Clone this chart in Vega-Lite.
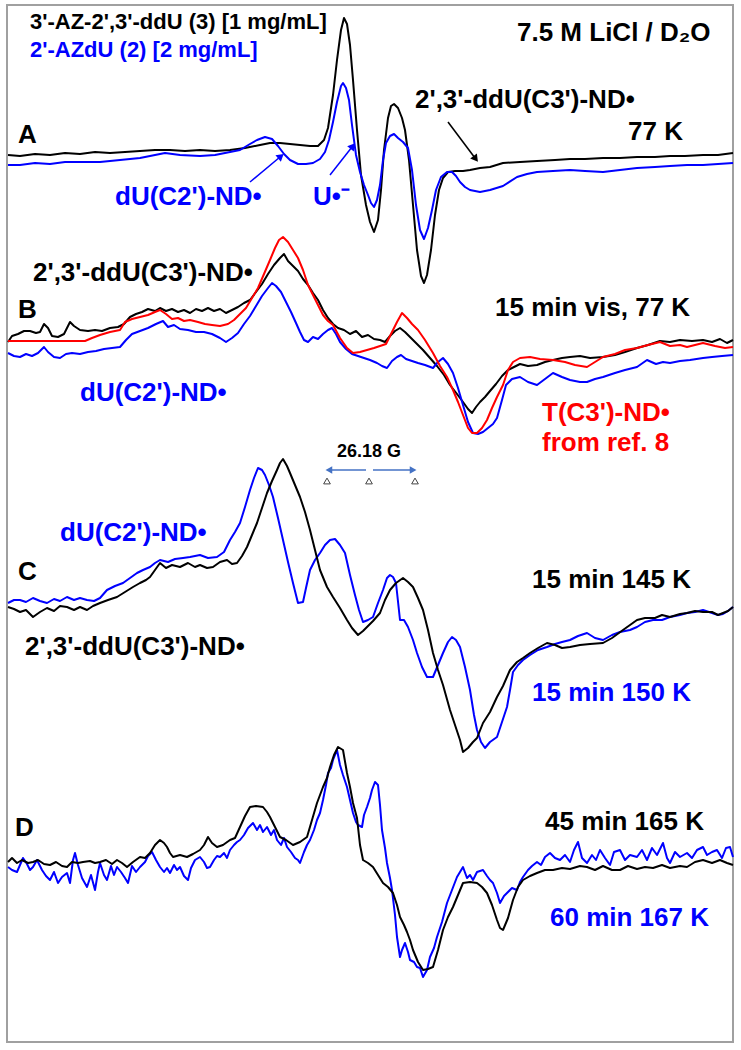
{
"$schema": "https://vega.github.io/schema/vega-lite/v6.json",
"width": 741, "height": 1050,
"autosize": {"type": "fit", "contains": "padding"},
"padding": 0,
"background": "white",
"config": {"view": {"stroke": null}},
"resolve": {"scale": {"color": "independent"}},
"datasets": {
"frame": [{"x": 7, "x2": 733, "y": 5, "y2": 1042}],
"traces": [
{"s":"Ak","x":8,"y":155},{"s":"Ak","x":20,"y":156},{"s":"Ak","x":35,"y":154},{"s":"Ak","x":50,"y":155},{"s":"Ak","x":65,"y":153},{"s":"Ak","x":80,"y":154},{"s":"Ak","x":95,"y":152},{"s":"Ak","x":110,"y":153},{"s":"Ak","x":125,"y":152},{"s":"Ak","x":140,"y":151},{"s":"Ak","x":155,"y":150},{"s":"Ak","x":170,"y":150},{"s":"Ak","x":185,"y":151},{"s":"Ak","x":200,"y":150},{"s":"Ak","x":215,"y":151},{"s":"Ak","x":230,"y":150},{"s":"Ak","x":245,"y":148},{"s":"Ak","x":260,"y":145},{"s":"Ak","x":270,"y":143},{"s":"Ak","x":280,"y":143},{"s":"Ak","x":290,"y":144},{"s":"Ak","x":300,"y":145},{"s":"Ak","x":310,"y":146},{"s":"Ak","x":318,"y":146},{"s":"Ak","x":324,"y":140},{"s":"Ak","x":328,"y":128},{"s":"Ak","x":333,"y":95},{"s":"Ak","x":337,"y":60},{"s":"Ak","x":341,"y":30},{"s":"Ak","x":344,"y":18},{"s":"Ak","x":347,"y":24},{"s":"Ak","x":350,"y":45},{"s":"Ak","x":353,"y":80},{"s":"Ak","x":357,"y":130},{"s":"Ak","x":361,"y":175},{"s":"Ak","x":366,"y":205},{"s":"Ak","x":370,"y":222},{"s":"Ak","x":374,"y":232},{"s":"Ak","x":378,"y":220},{"s":"Ak","x":381,"y":190},{"s":"Ak","x":384,"y":150},{"s":"Ak","x":388,"y":118},{"s":"Ak","x":391,"y":106},{"s":"Ak","x":394,"y":104},{"s":"Ak","x":398,"y":108},{"s":"Ak","x":402,"y":118},{"s":"Ak","x":405,"y":130},{"s":"Ak","x":409,"y":160},{"s":"Ak","x":413,"y":205},{"s":"Ak","x":417,"y":250},{"s":"Ak","x":421,"y":276},{"s":"Ak","x":424,"y":283},{"s":"Ak","x":427,"y":275},{"s":"Ak","x":431,"y":250},{"s":"Ak","x":435,"y":215},{"s":"Ak","x":439,"y":190},{"s":"Ak","x":443,"y":178},{"s":"Ak","x":448,"y":172},{"s":"Ak","x":455,"y":171},{"s":"Ak","x":463,"y":171},{"s":"Ak","x":470,"y":170},{"s":"Ak","x":480,"y":168},{"s":"Ak","x":490,"y":167},{"s":"Ak","x":503,"y":163},{"s":"Ak","x":520,"y":162},{"s":"Ak","x":537,"y":161},{"s":"Ak","x":555,"y":160},{"s":"Ak","x":570,"y":159},{"s":"Ak","x":585,"y":159},{"s":"Ak","x":603,"y":158},{"s":"Ak","x":620,"y":158},{"s":"Ak","x":637,"y":157},{"s":"Ak","x":655,"y":157},{"s":"Ak","x":670,"y":156},{"s":"Ak","x":685,"y":156},{"s":"Ak","x":703,"y":155},{"s":"Ak","x":718,"y":155},{"s":"Ak","x":733,"y":153},
{"s":"Ab","x":8,"y":165},{"s":"Ab","x":20,"y":165},{"s":"Ab","x":35,"y":163},{"s":"Ab","x":50,"y":164},{"s":"Ab","x":65,"y":162},{"s":"Ab","x":80,"y":162},{"s":"Ab","x":100,"y":162},{"s":"Ab","x":120,"y":160},{"s":"Ab","x":140,"y":158},{"s":"Ab","x":155,"y":155},{"s":"Ab","x":165,"y":153},{"s":"Ab","x":180,"y":155},{"s":"Ab","x":200,"y":156},{"s":"Ab","x":215,"y":155},{"s":"Ab","x":230,"y":152},{"s":"Ab","x":240,"y":150},{"s":"Ab","x":250,"y":144},{"s":"Ab","x":257,"y":140},{"s":"Ab","x":265,"y":137},{"s":"Ab","x":272,"y":139},{"s":"Ab","x":278,"y":146},{"s":"Ab","x":284,"y":154},{"s":"Ab","x":290,"y":160},{"s":"Ab","x":298,"y":164},{"s":"Ab","x":306,"y":164},{"s":"Ab","x":313,"y":163},{"s":"Ab","x":320,"y":159},{"s":"Ab","x":325,"y":152},{"s":"Ab","x":329,"y":140},{"s":"Ab","x":333,"y":122},{"s":"Ab","x":337,"y":102},{"s":"Ab","x":341,"y":86},{"s":"Ab","x":343,"y":83},{"s":"Ab","x":346,"y":88},{"s":"Ab","x":349,"y":100},{"s":"Ab","x":352,"y":125},{"s":"Ab","x":356,"y":155},{"s":"Ab","x":360,"y":172},{"s":"Ab","x":364,"y":185},{"s":"Ab","x":368,"y":195},{"s":"Ab","x":371,"y":203},{"s":"Ab","x":374,"y":207},{"s":"Ab","x":377,"y":200},{"s":"Ab","x":380,"y":185},{"s":"Ab","x":383,"y":160},{"s":"Ab","x":386,"y":143},{"s":"Ab","x":390,"y":136},{"s":"Ab","x":394,"y":134},{"s":"Ab","x":398,"y":138},{"s":"Ab","x":403,"y":142},{"s":"Ab","x":408,"y":148},{"s":"Ab","x":412,"y":170},{"s":"Ab","x":416,"y":205},{"s":"Ab","x":420,"y":230},{"s":"Ab","x":424,"y":239},{"s":"Ab","x":428,"y":228},{"s":"Ab","x":432,"y":210},{"s":"Ab","x":436,"y":190},{"s":"Ab","x":441,"y":177},{"s":"Ab","x":447,"y":172},{"s":"Ab","x":452,"y":172},{"s":"Ab","x":456,"y":176},{"s":"Ab","x":460,"y":182},{"s":"Ab","x":465,"y":187},{"s":"Ab","x":470,"y":190},{"s":"Ab","x":480,"y":192},{"s":"Ab","x":490,"y":190},{"s":"Ab","x":503,"y":186},{"s":"Ab","x":517,"y":177},{"s":"Ab","x":527,"y":174},{"s":"Ab","x":537,"y":172},{"s":"Ab","x":553,"y":171},{"s":"Ab","x":570,"y":170},{"s":"Ab","x":585,"y":171},{"s":"Ab","x":603,"y":172},{"s":"Ab","x":620,"y":170},{"s":"Ab","x":637,"y":168},{"s":"Ab","x":655,"y":167},{"s":"Ab","x":670,"y":166},{"s":"Ab","x":687,"y":165},{"s":"Ab","x":703,"y":165},{"s":"Ab","x":718,"y":164},{"s":"Ab","x":733,"y":163},
{"s":"Bk","x":8,"y":342},{"s":"Bk","x":12,"y":336},{"s":"Bk","x":18,"y":334},{"s":"Bk","x":24,"y":331},{"s":"Bk","x":30,"y":331},{"s":"Bk","x":36,"y":333},{"s":"Bk","x":40,"y":332},{"s":"Bk","x":44,"y":324},{"s":"Bk","x":48,"y":328},{"s":"Bk","x":52,"y":336},{"s":"Bk","x":58,"y":337},{"s":"Bk","x":64,"y":334},{"s":"Bk","x":70,"y":322},{"s":"Bk","x":74,"y":326},{"s":"Bk","x":80,"y":330},{"s":"Bk","x":88,"y":331},{"s":"Bk","x":95,"y":330},{"s":"Bk","x":102,"y":331},{"s":"Bk","x":110,"y":328},{"s":"Bk","x":118,"y":327},{"s":"Bk","x":124,"y":324},{"s":"Bk","x":130,"y":317},{"s":"Bk","x":136,"y":314},{"s":"Bk","x":142,"y":312},{"s":"Bk","x":148,"y":309},{"s":"Bk","x":155,"y":311},{"s":"Bk","x":160,"y":308},{"s":"Bk","x":166,"y":311},{"s":"Bk","x":172,"y":309},{"s":"Bk","x":178,"y":312},{"s":"Bk","x":184,"y":310},{"s":"Bk","x":190,"y":313},{"s":"Bk","x":196,"y":309},{"s":"Bk","x":202,"y":311},{"s":"Bk","x":208,"y":308},{"s":"Bk","x":214,"y":311},{"s":"Bk","x":220,"y":309},{"s":"Bk","x":226,"y":313},{"s":"Bk","x":232,"y":310},{"s":"Bk","x":238,"y":307},{"s":"Bk","x":244,"y":303},{"s":"Bk","x":250,"y":300},{"s":"Bk","x":256,"y":292},{"s":"Bk","x":262,"y":284},{"s":"Bk","x":268,"y":274},{"s":"Bk","x":274,"y":265},{"s":"Bk","x":280,"y":258},{"s":"Bk","x":284,"y":254},{"s":"Bk","x":288,"y":261},{"s":"Bk","x":293,"y":266},{"s":"Bk","x":298,"y":271},{"s":"Bk","x":303,"y":279},{"s":"Bk","x":308,"y":285},{"s":"Bk","x":313,"y":293},{"s":"Bk","x":318,"y":300},{"s":"Bk","x":323,"y":310},{"s":"Bk","x":328,"y":318},{"s":"Bk","x":333,"y":324},{"s":"Bk","x":338,"y":328},{"s":"Bk","x":344,"y":330},{"s":"Bk","x":350,"y":334},{"s":"Bk","x":356,"y":331},{"s":"Bk","x":362,"y":337},{"s":"Bk","x":368,"y":335},{"s":"Bk","x":374,"y":339},{"s":"Bk","x":380,"y":340},{"s":"Bk","x":385,"y":342},{"s":"Bk","x":390,"y":336},{"s":"Bk","x":395,"y":331},{"s":"Bk","x":400,"y":328},{"s":"Bk","x":405,"y":332},{"s":"Bk","x":410,"y":337},{"s":"Bk","x":416,"y":343},{"s":"Bk","x":423,"y":350},{"s":"Bk","x":430,"y":358},{"s":"Bk","x":437,"y":366},{"s":"Bk","x":444,"y":375},{"s":"Bk","x":450,"y":385},{"s":"Bk","x":457,"y":394},{"s":"Bk","x":463,"y":402},{"s":"Bk","x":468,"y":409},{"s":"Bk","x":472,"y":413},{"s":"Bk","x":476,"y":407},{"s":"Bk","x":480,"y":402},{"s":"Bk","x":485,"y":397},{"s":"Bk","x":490,"y":391},{"s":"Bk","x":496,"y":384},{"s":"Bk","x":502,"y":376},{"s":"Bk","x":508,"y":370},{"s":"Bk","x":514,"y":367},{"s":"Bk","x":520,"y":364},{"s":"Bk","x":528,"y":366},{"s":"Bk","x":537,"y":365},{"s":"Bk","x":545,"y":362},{"s":"Bk","x":553,"y":360},{"s":"Bk","x":562,"y":358},{"s":"Bk","x":570,"y":357},{"s":"Bk","x":580,"y":356},{"s":"Bk","x":590,"y":358},{"s":"Bk","x":603,"y":357},{"s":"Bk","x":615,"y":355},{"s":"Bk","x":625,"y":352},{"s":"Bk","x":637,"y":348},{"s":"Bk","x":648,"y":345},{"s":"Bk","x":660,"y":341},{"s":"Bk","x":670,"y":342},{"s":"Bk","x":680,"y":340},{"s":"Bk","x":692,"y":341},{"s":"Bk","x":703,"y":340},{"s":"Bk","x":712,"y":342},{"s":"Bk","x":720,"y":339},{"s":"Bk","x":727,"y":343},{"s":"Bk","x":733,"y":340},
{"s":"Bb","x":8,"y":353},{"s":"Bb","x":14,"y":356},{"s":"Bb","x":20,"y":357},{"s":"Bb","x":26,"y":354},{"s":"Bb","x":32,"y":356},{"s":"Bb","x":38,"y":353},{"s":"Bb","x":44,"y":347},{"s":"Bb","x":48,"y":352},{"s":"Bb","x":54,"y":357},{"s":"Bb","x":60,"y":358},{"s":"Bb","x":66,"y":354},{"s":"Bb","x":72,"y":353},{"s":"Bb","x":80,"y":354},{"s":"Bb","x":88,"y":352},{"s":"Bb","x":96,"y":351},{"s":"Bb","x":104,"y":349},{"s":"Bb","x":112,"y":348},{"s":"Bb","x":120,"y":347},{"s":"Bb","x":126,"y":340},{"s":"Bb","x":132,"y":334},{"s":"Bb","x":140,"y":331},{"s":"Bb","x":148,"y":328},{"s":"Bb","x":156,"y":324},{"s":"Bb","x":163,"y":321},{"s":"Bb","x":168,"y":327},{"s":"Bb","x":174,"y":325},{"s":"Bb","x":180,"y":329},{"s":"Bb","x":188,"y":330},{"s":"Bb","x":196,"y":332},{"s":"Bb","x":204,"y":332},{"s":"Bb","x":212,"y":334},{"s":"Bb","x":220,"y":338},{"s":"Bb","x":226,"y":342},{"s":"Bb","x":232,"y":338},{"s":"Bb","x":238,"y":333},{"s":"Bb","x":244,"y":324},{"s":"Bb","x":250,"y":316},{"s":"Bb","x":256,"y":306},{"s":"Bb","x":262,"y":296},{"s":"Bb","x":268,"y":288},{"s":"Bb","x":272,"y":283},{"s":"Bb","x":276,"y":286},{"s":"Bb","x":281,"y":292},{"s":"Bb","x":286,"y":302},{"s":"Bb","x":291,"y":312},{"s":"Bb","x":296,"y":323},{"s":"Bb","x":300,"y":332},{"s":"Bb","x":304,"y":340},{"s":"Bb","x":308,"y":342},{"s":"Bb","x":313,"y":337},{"s":"Bb","x":318,"y":339},{"s":"Bb","x":323,"y":334},{"s":"Bb","x":328,"y":330},{"s":"Bb","x":332,"y":328},{"s":"Bb","x":336,"y":334},{"s":"Bb","x":340,"y":342},{"s":"Bb","x":346,"y":349},{"s":"Bb","x":352,"y":354},{"s":"Bb","x":358,"y":356},{"s":"Bb","x":364,"y":358},{"s":"Bb","x":370,"y":360},{"s":"Bb","x":377,"y":363},{"s":"Bb","x":382,"y":366},{"s":"Bb","x":387,"y":368},{"s":"Bb","x":392,"y":361},{"s":"Bb","x":397,"y":357},{"s":"Bb","x":401,"y":355},{"s":"Bb","x":406,"y":359},{"s":"Bb","x":412,"y":361},{"s":"Bb","x":418,"y":363},{"s":"Bb","x":425,"y":365},{"s":"Bb","x":433,"y":368},{"s":"Bb","x":438,"y":362},{"s":"Bb","x":443,"y":358},{"s":"Bb","x":448,"y":364},{"s":"Bb","x":453,"y":373},{"s":"Bb","x":458,"y":388},{"s":"Bb","x":463,"y":405},{"s":"Bb","x":468,"y":422},{"s":"Bb","x":473,"y":433},{"s":"Bb","x":478,"y":434},{"s":"Bb","x":483,"y":432},{"s":"Bb","x":488,"y":428},{"s":"Bb","x":493,"y":424},{"s":"Bb","x":497,"y":418},{"s":"Bb","x":502,"y":400},{"s":"Bb","x":506,"y":385},{"s":"Bb","x":512,"y":379},{"s":"Bb","x":520,"y":377},{"s":"Bb","x":528,"y":382},{"s":"Bb","x":537,"y":385},{"s":"Bb","x":545,"y":379},{"s":"Bb","x":553,"y":373},{"s":"Bb","x":562,"y":377},{"s":"Bb","x":570,"y":380},{"s":"Bb","x":580,"y":382},{"s":"Bb","x":587,"y":382},{"s":"Bb","x":595,"y":379},{"s":"Bb","x":603,"y":377},{"s":"Bb","x":615,"y":373},{"s":"Bb","x":625,"y":370},{"s":"Bb","x":637,"y":367},{"s":"Bb","x":647,"y":360},{"s":"Bb","x":656,"y":364},{"s":"Bb","x":663,"y":362},{"s":"Bb","x":670,"y":363},{"s":"Bb","x":680,"y":361},{"s":"Bb","x":690,"y":360},{"s":"Bb","x":703,"y":358},{"s":"Bb","x":712,"y":357},{"s":"Bb","x":722,"y":356},{"s":"Bb","x":733,"y":355},
{"s":"Br","x":8,"y":341},{"s":"Br","x":85,"y":341},{"s":"Br","x":92,"y":338},{"s":"Br","x":100,"y":335},{"s":"Br","x":110,"y":332},{"s":"Br","x":120,"y":330},{"s":"Br","x":125,"y":322},{"s":"Br","x":132,"y":319},{"s":"Br","x":140,"y":317},{"s":"Br","x":148,"y":315},{"s":"Br","x":155,"y":312},{"s":"Br","x":160,"y":310},{"s":"Br","x":166,"y":314},{"s":"Br","x":172,"y":319},{"s":"Br","x":178,"y":318},{"s":"Br","x":184,"y":321},{"s":"Br","x":190,"y":320},{"s":"Br","x":198,"y":322},{"s":"Br","x":205,"y":324},{"s":"Br","x":212,"y":325},{"s":"Br","x":220,"y":326},{"s":"Br","x":228,"y":324},{"s":"Br","x":234,"y":320},{"s":"Br","x":240,"y":314},{"s":"Br","x":246,"y":308},{"s":"Br","x":252,"y":298},{"s":"Br","x":258,"y":288},{"s":"Br","x":264,"y":274},{"s":"Br","x":270,"y":260},{"s":"Br","x":275,"y":248},{"s":"Br","x":279,"y":240},{"s":"Br","x":283,"y":237},{"s":"Br","x":288,"y":242},{"s":"Br","x":293,"y":250},{"s":"Br","x":298,"y":258},{"s":"Br","x":303,"y":270},{"s":"Br","x":308,"y":285},{"s":"Br","x":313,"y":295},{"s":"Br","x":318,"y":305},{"s":"Br","x":323,"y":315},{"s":"Br","x":328,"y":321},{"s":"Br","x":333,"y":325},{"s":"Br","x":340,"y":338},{"s":"Br","x":347,"y":348},{"s":"Br","x":353,"y":353},{"s":"Br","x":360,"y":352},{"s":"Br","x":367,"y":350},{"s":"Br","x":374,"y":348},{"s":"Br","x":380,"y":346},{"s":"Br","x":386,"y":344},{"s":"Br","x":392,"y":332},{"s":"Br","x":397,"y":322},{"s":"Br","x":402,"y":313},{"s":"Br","x":407,"y":318},{"s":"Br","x":412,"y":324},{"s":"Br","x":418,"y":330},{"s":"Br","x":425,"y":340},{"s":"Br","x":433,"y":353},{"s":"Br","x":440,"y":366},{"s":"Br","x":447,"y":377},{"s":"Br","x":453,"y":390},{"s":"Br","x":458,"y":402},{"s":"Br","x":463,"y":415},{"s":"Br","x":468,"y":428},{"s":"Br","x":472,"y":433},{"s":"Br","x":477,"y":433},{"s":"Br","x":482,"y":428},{"s":"Br","x":487,"y":420},{"s":"Br","x":492,"y":408},{"s":"Br","x":497,"y":397},{"s":"Br","x":503,"y":385},{"s":"Br","x":508,"y":370},{"s":"Br","x":513,"y":362},{"s":"Br","x":520,"y":358},{"s":"Br","x":530,"y":357},{"s":"Br","x":540,"y":359},{"s":"Br","x":553,"y":360},{"s":"Br","x":565,"y":362},{"s":"Br","x":575,"y":365},{"s":"Br","x":587,"y":367},{"s":"Br","x":595,"y":362},{"s":"Br","x":603,"y":357},{"s":"Br","x":615,"y":354},{"s":"Br","x":625,"y":350},{"s":"Br","x":637,"y":348},{"s":"Br","x":648,"y":345},{"s":"Br","x":660,"y":342},{"s":"Br","x":670,"y":346},{"s":"Br","x":680,"y":345},{"s":"Br","x":687,"y":347},{"s":"Br","x":695,"y":345},{"s":"Br","x":703,"y":343},{"s":"Br","x":715,"y":346},{"s":"Br","x":725,"y":348},{"s":"Br","x":733,"y":347},
{"s":"Cb","x":8,"y":603},{"s":"Cb","x":14,"y":600},{"s":"Cb","x":20,"y":600},{"s":"Cb","x":26,"y":602},{"s":"Cb","x":33,"y":598},{"s":"Cb","x":40,"y":601},{"s":"Cb","x":47,"y":603},{"s":"Cb","x":54,"y":599},{"s":"Cb","x":60,"y":601},{"s":"Cb","x":67,"y":597},{"s":"Cb","x":74,"y":600},{"s":"Cb","x":80,"y":598},{"s":"Cb","x":87,"y":600},{"s":"Cb","x":94,"y":601},{"s":"Cb","x":100,"y":598},{"s":"Cb","x":107,"y":590},{"s":"Cb","x":115,"y":586},{"s":"Cb","x":123,"y":583},{"s":"Cb","x":130,"y":578},{"s":"Cb","x":137,"y":573},{"s":"Cb","x":143,"y":570},{"s":"Cb","x":150,"y":567},{"s":"Cb","x":155,"y":563},{"s":"Cb","x":160,"y":560},{"s":"Cb","x":168,"y":562},{"s":"Cb","x":175,"y":559},{"s":"Cb","x":183,"y":558},{"s":"Cb","x":190,"y":557},{"s":"Cb","x":200,"y":555},{"s":"Cb","x":208,"y":558},{"s":"Cb","x":217,"y":557},{"s":"Cb","x":224,"y":552},{"s":"Cb","x":230,"y":540},{"s":"Cb","x":235,"y":532},{"s":"Cb","x":240,"y":523},{"s":"Cb","x":245,"y":507},{"s":"Cb","x":250,"y":490},{"s":"Cb","x":254,"y":478},{"s":"Cb","x":258,"y":468},{"s":"Cb","x":262,"y":470},{"s":"Cb","x":265,"y":475},{"s":"Cb","x":269,"y":485},{"s":"Cb","x":273,"y":497},{"s":"Cb","x":278,"y":518},{"s":"Cb","x":283,"y":540},{"s":"Cb","x":288,"y":562},{"s":"Cb","x":293,"y":583},{"s":"Cb","x":298,"y":603},{"s":"Cb","x":303,"y":602},{"s":"Cb","x":306,"y":588},{"s":"Cb","x":310,"y":570},{"s":"Cb","x":315,"y":560},{"s":"Cb","x":320,"y":553},{"s":"Cb","x":325,"y":545},{"s":"Cb","x":330,"y":540},{"s":"Cb","x":335,"y":539},{"s":"Cb","x":340,"y":545},{"s":"Cb","x":345,"y":553},{"s":"Cb","x":350,"y":575},{"s":"Cb","x":355,"y":595},{"s":"Cb","x":359,"y":610},{"s":"Cb","x":363,"y":622},{"s":"Cb","x":368,"y":620},{"s":"Cb","x":373,"y":617},{"s":"Cb","x":378,"y":603},{"s":"Cb","x":383,"y":590},{"s":"Cb","x":387,"y":578},{"s":"Cb","x":390,"y":575},{"s":"Cb","x":393,"y":577},{"s":"Cb","x":396,"y":583},{"s":"Cb","x":400,"y":620},{"s":"Cb","x":404,"y":620},{"s":"Cb","x":408,"y":627},{"s":"Cb","x":413,"y":640},{"s":"Cb","x":417,"y":653},{"s":"Cb","x":422,"y":667},{"s":"Cb","x":427,"y":677},{"s":"Cb","x":433,"y":677},{"s":"Cb","x":438,"y":665},{"s":"Cb","x":443,"y":653},{"s":"Cb","x":448,"y":642},{"s":"Cb","x":452,"y":637},{"s":"Cb","x":456,"y":640},{"s":"Cb","x":460,"y":647},{"s":"Cb","x":465,"y":667},{"s":"Cb","x":470,"y":690},{"s":"Cb","x":474,"y":715},{"s":"Cb","x":477,"y":730},{"s":"Cb","x":481,"y":742},{"s":"Cb","x":485,"y":748},{"s":"Cb","x":490,"y":742},{"s":"Cb","x":497,"y":737},{"s":"Cb","x":502,"y":722},{"s":"Cb","x":507,"y":707},{"s":"Cb","x":510,"y":690},{"s":"Cb","x":513,"y":672},{"s":"Cb","x":518,"y":665},{"s":"Cb","x":523,"y":660},{"s":"Cb","x":530,"y":655},{"s":"Cb","x":538,"y":650},{"s":"Cb","x":547,"y":647},{"s":"Cb","x":555,"y":644},{"s":"Cb","x":562,"y":642},{"s":"Cb","x":570,"y":640},{"s":"Cb","x":578,"y":636},{"s":"Cb","x":587,"y":633},{"s":"Cb","x":595,"y":638},{"s":"Cb","x":603,"y":640},{"s":"Cb","x":612,"y":635},{"s":"Cb","x":620,"y":632},{"s":"Cb","x":630,"y":630},{"s":"Cb","x":637,"y":627},{"s":"Cb","x":645,"y":622},{"s":"Cb","x":653,"y":620},{"s":"Cb","x":662,"y":620},{"s":"Cb","x":670,"y":617},{"s":"Cb","x":680,"y":615},{"s":"Cb","x":687,"y":613},{"s":"Cb","x":695,"y":612},{"s":"Cb","x":703,"y":610},{"s":"Cb","x":712,"y":613},{"s":"Cb","x":718,"y":615},{"s":"Cb","x":723,"y":614},{"s":"Cb","x":728,"y":611},{"s":"Cb","x":733,"y":607},
{"s":"Ck","x":8,"y":607},{"s":"Ck","x":14,"y":609},{"s":"Ck","x":20,"y":612},{"s":"Ck","x":26,"y":610},{"s":"Ck","x":33,"y":617},{"s":"Ck","x":40,"y":612},{"s":"Ck","x":47,"y":608},{"s":"Ck","x":54,"y":611},{"s":"Ck","x":60,"y":606},{"s":"Ck","x":67,"y":607},{"s":"Ck","x":74,"y":610},{"s":"Ck","x":80,"y":607},{"s":"Ck","x":87,"y":610},{"s":"Ck","x":93,"y":606},{"s":"Ck","x":100,"y":603},{"s":"Ck","x":108,"y":600},{"s":"Ck","x":117,"y":597},{"s":"Ck","x":125,"y":592},{"s":"Ck","x":133,"y":587},{"s":"Ck","x":140,"y":583},{"s":"Ck","x":146,"y":580},{"s":"Ck","x":150,"y":577},{"s":"Ck","x":155,"y":570},{"s":"Ck","x":160,"y":563},{"s":"Ck","x":166,"y":568},{"s":"Ck","x":172,"y":565},{"s":"Ck","x":180,"y":567},{"s":"Ck","x":188,"y":563},{"s":"Ck","x":195,"y":567},{"s":"Ck","x":200,"y":565},{"s":"Ck","x":207,"y":568},{"s":"Ck","x":213,"y":567},{"s":"Ck","x":220,"y":562},{"s":"Ck","x":227,"y":560},{"s":"Ck","x":232,"y":564},{"s":"Ck","x":237,"y":563},{"s":"Ck","x":242,"y":556},{"s":"Ck","x":247,"y":547},{"s":"Ck","x":252,"y":535},{"s":"Ck","x":257,"y":523},{"s":"Ck","x":262,"y":508},{"s":"Ck","x":267,"y":493},{"s":"Ck","x":272,"y":481},{"s":"Ck","x":277,"y":470},{"s":"Ck","x":280,"y":463},{"s":"Ck","x":283,"y":459},{"s":"Ck","x":287,"y":466},{"s":"Ck","x":290,"y":473},{"s":"Ck","x":295,"y":485},{"s":"Ck","x":300,"y":497},{"s":"Ck","x":305,"y":512},{"s":"Ck","x":310,"y":530},{"s":"Ck","x":315,"y":550},{"s":"Ck","x":320,"y":570},{"s":"Ck","x":327,"y":587},{"s":"Ck","x":333,"y":597},{"s":"Ck","x":340,"y":608},{"s":"Ck","x":347,"y":620},{"s":"Ck","x":352,"y":628},{"s":"Ck","x":358,"y":635},{"s":"Ck","x":363,"y":631},{"s":"Ck","x":367,"y":627},{"s":"Ck","x":373,"y":621},{"s":"Ck","x":380,"y":613},{"s":"Ck","x":385,"y":600},{"s":"Ck","x":390,"y":590},{"s":"Ck","x":396,"y":583},{"s":"Ck","x":403,"y":578},{"s":"Ck","x":408,"y":582},{"s":"Ck","x":413,"y":587},{"s":"Ck","x":418,"y":598},{"s":"Ck","x":423,"y":610},{"s":"Ck","x":428,"y":630},{"s":"Ck","x":433,"y":653},{"s":"Ck","x":438,"y":670},{"s":"Ck","x":443,"y":685},{"s":"Ck","x":450,"y":710},{"s":"Ck","x":455,"y":725},{"s":"Ck","x":460,"y":740},{"s":"Ck","x":463,"y":752},{"s":"Ck","x":468,"y":748},{"s":"Ck","x":473,"y":742},{"s":"Ck","x":477,"y":738},{"s":"Ck","x":483,"y":723},{"s":"Ck","x":490,"y":712},{"s":"Ck","x":497,"y":697},{"s":"Ck","x":503,"y":686},{"s":"Ck","x":510,"y":670},{"s":"Ck","x":517,"y":662},{"s":"Ck","x":523,"y":658},{"s":"Ck","x":530,"y":653},{"s":"Ck","x":538,"y":648},{"s":"Ck","x":547,"y":643},{"s":"Ck","x":555,"y":645},{"s":"Ck","x":562,"y":648},{"s":"Ck","x":570,"y":647},{"s":"Ck","x":580,"y":645},{"s":"Ck","x":590,"y":644},{"s":"Ck","x":603,"y":643},{"s":"Ck","x":612,"y":638},{"s":"Ck","x":623,"y":630},{"s":"Ck","x":630,"y":625},{"s":"Ck","x":637,"y":620},{"s":"Ck","x":645,"y":618},{"s":"Ck","x":655,"y":618},{"s":"Ck","x":662,"y":615},{"s":"Ck","x":670,"y":617},{"s":"Ck","x":680,"y":614},{"s":"Ck","x":687,"y":613},{"s":"Ck","x":695,"y":611},{"s":"Ck","x":703,"y":612},{"s":"Ck","x":712,"y":612},{"s":"Ck","x":718,"y":615},{"s":"Ck","x":723,"y":613},{"s":"Ck","x":728,"y":611},{"s":"Ck","x":733,"y":607},
{"s":"Db","x":8,"y":867},{"s":"Db","x":12,"y":870},{"s":"Db","x":17,"y":872},{"s":"Db","x":20,"y":865},{"s":"Db","x":23,"y":858},{"s":"Db","x":27,"y":864},{"s":"Db","x":30,"y":870},{"s":"Db","x":33,"y":867},{"s":"Db","x":37,"y":860},{"s":"Db","x":42,"y":870},{"s":"Db","x":46,"y":876},{"s":"Db","x":50,"y":880},{"s":"Db","x":54,"y":872},{"s":"Db","x":58,"y":883},{"s":"Db","x":62,"y":877},{"s":"Db","x":67,"y":873},{"s":"Db","x":70,"y":883},{"s":"Db","x":73,"y":860},{"s":"Db","x":75,"y":853},{"s":"Db","x":78,"y":865},{"s":"Db","x":82,"y":878},{"s":"Db","x":87,"y":887},{"s":"Db","x":91,"y":875},{"s":"Db","x":95,"y":890},{"s":"Db","x":98,"y":872},{"s":"Db","x":100,"y":863},{"s":"Db","x":104,"y":875},{"s":"Db","x":107,"y":880},{"s":"Db","x":111,"y":866},{"s":"Db","x":114,"y":875},{"s":"Db","x":117,"y":867},{"s":"Db","x":121,"y":872},{"s":"Db","x":125,"y":878},{"s":"Db","x":128,"y":883},{"s":"Db","x":132,"y":866},{"s":"Db","x":136,"y":872},{"s":"Db","x":140,"y":867},{"s":"Db","x":145,"y":862},{"s":"Db","x":148,"y":856},{"s":"Db","x":152,"y":852},{"s":"Db","x":156,"y":860},{"s":"Db","x":160,"y":867},{"s":"Db","x":164,"y":872},{"s":"Db","x":167,"y":868},{"s":"Db","x":170,"y":873},{"s":"Db","x":174,"y":865},{"s":"Db","x":177,"y":870},{"s":"Db","x":180,"y":867},{"s":"Db","x":184,"y":876},{"s":"Db","x":188,"y":880},{"s":"Db","x":191,"y":868},{"s":"Db","x":195,"y":860},{"s":"Db","x":200,"y":857},{"s":"Db","x":204,"y":862},{"s":"Db","x":207,"y":868},{"s":"Db","x":210,"y":867},{"s":"Db","x":214,"y":860},{"s":"Db","x":217,"y":856},{"s":"Db","x":220,"y":857},{"s":"Db","x":224,"y":853},{"s":"Db","x":227,"y":858},{"s":"Db","x":230,"y":850},{"s":"Db","x":234,"y":845},{"s":"Db","x":237,"y":842},{"s":"Db","x":240,"y":840},{"s":"Db","x":244,"y":835},{"s":"Db","x":248,"y":828},{"s":"Db","x":253,"y":823},{"s":"Db","x":257,"y":830},{"s":"Db","x":260,"y":825},{"s":"Db","x":263,"y":832},{"s":"Db","x":267,"y":827},{"s":"Db","x":271,"y":835},{"s":"Db","x":274,"y":830},{"s":"Db","x":277,"y":840},{"s":"Db","x":281,"y":845},{"s":"Db","x":284,"y":838},{"s":"Db","x":287,"y":847},{"s":"Db","x":291,"y":852},{"s":"Db","x":295,"y":858},{"s":"Db","x":298,"y":860},{"s":"Db","x":300,"y":863},{"s":"Db","x":304,"y":852},{"s":"Db","x":307,"y":845},{"s":"Db","x":310,"y":840},{"s":"Db","x":314,"y":830},{"s":"Db","x":317,"y":820},{"s":"Db","x":320,"y":813},{"s":"Db","x":323,"y":800},{"s":"Db","x":326,"y":785},{"s":"Db","x":328,"y":773},{"s":"Db","x":331,"y":768},{"s":"Db","x":333,"y":760},{"s":"Db","x":337,"y":750},{"s":"Db","x":340,"y":765},{"s":"Db","x":343,"y":775},{"s":"Db","x":347,"y":787},{"s":"Db","x":350,"y":800},{"s":"Db","x":353,"y":813},{"s":"Db","x":356,"y":822},{"s":"Db","x":358,"y":825},{"s":"Db","x":362,"y":827},{"s":"Db","x":364,"y":815},{"s":"Db","x":367,"y":807},{"s":"Db","x":370,"y":798},{"s":"Db","x":372,"y":790},{"s":"Db","x":375,"y":782},{"s":"Db","x":378,"y":785},{"s":"Db","x":380,"y":805},{"s":"Db","x":382,"y":830},{"s":"Db","x":385,"y":848},{"s":"Db","x":387,"y":863},{"s":"Db","x":390,"y":878},{"s":"Db","x":392,"y":890},{"s":"Db","x":395,"y":915},{"s":"Db","x":397,"y":937},{"s":"Db","x":400,"y":957},{"s":"Db","x":402,"y":950},{"s":"Db","x":405,"y":943},{"s":"Db","x":408,"y":952},{"s":"Db","x":410,"y":960},{"s":"Db","x":414,"y":962},{"s":"Db","x":417,"y":967},{"s":"Db","x":420,"y":968},{"s":"Db","x":423,"y":977},{"s":"Db","x":427,"y":970},{"s":"Db","x":430,"y":957},{"s":"Db","x":434,"y":948},{"s":"Db","x":437,"y":937},{"s":"Db","x":442,"y":922},{"s":"Db","x":447,"y":903},{"s":"Db","x":452,"y":890},{"s":"Db","x":457,"y":877},{"s":"Db","x":460,"y":872},{"s":"Db","x":463,"y":867},{"s":"Db","x":467,"y":878},{"s":"Db","x":470,"y":875},{"s":"Db","x":473,"y":880},{"s":"Db","x":477,"y":872},{"s":"Db","x":483,"y":870},{"s":"Db","x":487,"y":876},{"s":"Db","x":490,"y":880},{"s":"Db","x":493,"y":883},{"s":"Db","x":497,"y":893},{"s":"Db","x":500,"y":903},{"s":"Db","x":504,"y":896},{"s":"Db","x":507,"y":893},{"s":"Db","x":512,"y":888},{"s":"Db","x":517,"y":890},{"s":"Db","x":520,"y":882},{"s":"Db","x":523,"y":877},{"s":"Db","x":528,"y":870},{"s":"Db","x":532,"y":866},{"s":"Db","x":537,"y":862},{"s":"Db","x":541,"y":865},{"s":"Db","x":545,"y":857},{"s":"Db","x":550,"y":853},{"s":"Db","x":555,"y":858},{"s":"Db","x":560,"y":860},{"s":"Db","x":565,"y":855},{"s":"Db","x":570,"y":862},{"s":"Db","x":574,"y":850},{"s":"Db","x":578,"y":842},{"s":"Db","x":582,"y":858},{"s":"Db","x":587,"y":863},{"s":"Db","x":592,"y":855},{"s":"Db","x":596,"y":860},{"s":"Db","x":600,"y":850},{"s":"Db","x":605,"y":858},{"s":"Db","x":610,"y":865},{"s":"Db","x":614,"y":852},{"s":"Db","x":620,"y":850},{"s":"Db","x":625,"y":860},{"s":"Db","x":630,"y":855},{"s":"Db","x":637,"y":857},{"s":"Db","x":642,"y":850},{"s":"Db","x":647,"y":860},{"s":"Db","x":652,"y":848},{"s":"Db","x":657,"y":855},{"s":"Db","x":663,"y":843},{"s":"Db","x":667,"y":858},{"s":"Db","x":670,"y":863},{"s":"Db","x":675,"y":852},{"s":"Db","x":680,"y":857},{"s":"Db","x":687,"y":853},{"s":"Db","x":692,"y":858},{"s":"Db","x":697,"y":850},{"s":"Db","x":703,"y":847},{"s":"Db","x":707,"y":855},{"s":"Db","x":712,"y":852},{"s":"Db","x":717,"y":850},{"s":"Db","x":722,"y":858},{"s":"Db","x":726,"y":848},{"s":"Db","x":730,"y":847},{"s":"Db","x":733,"y":857},
{"s":"Dk","x":8,"y":862},{"s":"Dk","x":12,"y":858},{"s":"Dk","x":17,"y":863},{"s":"Dk","x":22,"y":860},{"s":"Dk","x":28,"y":863},{"s":"Dk","x":33,"y":862},{"s":"Dk","x":38,"y":860},{"s":"Dk","x":44,"y":864},{"s":"Dk","x":50,"y":865},{"s":"Dk","x":56,"y":862},{"s":"Dk","x":62,"y":866},{"s":"Dk","x":67,"y":867},{"s":"Dk","x":72,"y":862},{"s":"Dk","x":78,"y":863},{"s":"Dk","x":83,"y":862},{"s":"Dk","x":90,"y":861},{"s":"Dk","x":95,"y":863},{"s":"Dk","x":100,"y":862},{"s":"Dk","x":106,"y":860},{"s":"Dk","x":112,"y":864},{"s":"Dk","x":117,"y":860},{"s":"Dk","x":122,"y":863},{"s":"Dk","x":127,"y":867},{"s":"Dk","x":133,"y":862},{"s":"Dk","x":140,"y":857},{"s":"Dk","x":145,"y":858},{"s":"Dk","x":150,"y":853},{"s":"Dk","x":155,"y":845},{"s":"Dk","x":160,"y":840},{"s":"Dk","x":164,"y":843},{"s":"Dk","x":167,"y":847},{"s":"Dk","x":170,"y":853},{"s":"Dk","x":173,"y":857},{"s":"Dk","x":180,"y":855},{"s":"Dk","x":187,"y":857},{"s":"Dk","x":193,"y":854},{"s":"Dk","x":200,"y":850},{"s":"Dk","x":204,"y":845},{"s":"Dk","x":208,"y":837},{"s":"Dk","x":212,"y":843},{"s":"Dk","x":217,"y":847},{"s":"Dk","x":223,"y":845},{"s":"Dk","x":230,"y":840},{"s":"Dk","x":235,"y":838},{"s":"Dk","x":240,"y":827},{"s":"Dk","x":245,"y":816},{"s":"Dk","x":250,"y":807},{"s":"Dk","x":256,"y":806},{"s":"Dk","x":263,"y":807},{"s":"Dk","x":267,"y":812},{"s":"Dk","x":270,"y":817},{"s":"Dk","x":275,"y":827},{"s":"Dk","x":280,"y":837},{"s":"Dk","x":286,"y":840},{"s":"Dk","x":293,"y":845},{"s":"Dk","x":300,"y":842},{"s":"Dk","x":307,"y":837},{"s":"Dk","x":312,"y":820},{"s":"Dk","x":317,"y":803},{"s":"Dk","x":320,"y":795},{"s":"Dk","x":323,"y":787},{"s":"Dk","x":327,"y":778},{"s":"Dk","x":330,"y":767},{"s":"Dk","x":334,"y":755},{"s":"Dk","x":338,"y":747},{"s":"Dk","x":343,"y":750},{"s":"Dk","x":347,"y":773},{"s":"Dk","x":350,"y":787},{"s":"Dk","x":353,"y":803},{"s":"Dk","x":357,"y":818},{"s":"Dk","x":360,"y":845},{"s":"Dk","x":363,"y":860},{"s":"Dk","x":368,"y":863},{"s":"Dk","x":373,"y":867},{"s":"Dk","x":378,"y":875},{"s":"Dk","x":383,"y":883},{"s":"Dk","x":388,"y":887},{"s":"Dk","x":393,"y":893},{"s":"Dk","x":397,"y":905},{"s":"Dk","x":400,"y":917},{"s":"Dk","x":404,"y":925},{"s":"Dk","x":407,"y":932},{"s":"Dk","x":410,"y":940},{"s":"Dk","x":413,"y":950},{"s":"Dk","x":418,"y":962},{"s":"Dk","x":423,"y":970},{"s":"Dk","x":428,"y":969},{"s":"Dk","x":433,"y":967},{"s":"Dk","x":438,"y":950},{"s":"Dk","x":443,"y":930},{"s":"Dk","x":448,"y":917},{"s":"Dk","x":453,"y":907},{"s":"Dk","x":458,"y":895},{"s":"Dk","x":463,"y":883},{"s":"Dk","x":470,"y":882},{"s":"Dk","x":477,"y":883},{"s":"Dk","x":482,"y":887},{"s":"Dk","x":487,"y":893},{"s":"Dk","x":492,"y":905},{"s":"Dk","x":497,"y":920},{"s":"Dk","x":500,"y":928},{"s":"Dk","x":503,"y":930},{"s":"Dk","x":508,"y":918},{"s":"Dk","x":513,"y":900},{"s":"Dk","x":518,"y":887},{"s":"Dk","x":523,"y":880},{"s":"Dk","x":530,"y":876},{"s":"Dk","x":537,"y":873},{"s":"Dk","x":545,"y":870},{"s":"Dk","x":553,"y":870},{"s":"Dk","x":562,"y":868},{"s":"Dk","x":570,"y":869},{"s":"Dk","x":580,"y":866},{"s":"Dk","x":587,"y":867},{"s":"Dk","x":595,"y":870},{"s":"Dk","x":603,"y":866},{"s":"Dk","x":612,"y":870},{"s":"Dk","x":620,"y":870},{"s":"Dk","x":628,"y":866},{"s":"Dk","x":637,"y":869},{"s":"Dk","x":645,"y":867},{"s":"Dk","x":653,"y":868},{"s":"Dk","x":662,"y":865},{"s":"Dk","x":670,"y":868},{"s":"Dk","x":680,"y":866},{"s":"Dk","x":687,"y":867},{"s":"Dk","x":695,"y":862},{"s":"Dk","x":703,"y":860},{"s":"Dk","x":712,"y":863},{"s":"Dk","x":720,"y":860},{"s":"Dk","x":727,"y":863},{"s":"Dk","x":733,"y":865}
],
"labels": [
{"g":"legK","t":"3'-AZ-2',3'-ddU (3) [1 mg/mL]","x":30,"y":22},
{"g":"legB","t":"2'-AZdU (2) [2 mg/mL]","x":30,"y":50},
{"g":"k","t":"7.5 M LiCl / D₂O","x":517,"y":33},
{"g":"k","t":"A","x":18,"y":135},
{"g":"k","t":"2',3'-ddU(C3')-ND•","x":415,"y":100},
{"g":"k","t":"77 K","x":628,"y":132},
{"g":"b","t":"dU(C2')-ND•","x":115,"y":197},
{"g":"b","t":"U•⁻","x":313,"y":197},
{"g":"k","t":"2',3'-ddU(C3')-ND•","x":33,"y":273},
{"g":"k","t":"B","x":18,"y":310},
{"g":"k","t":"15 min vis, 77 K","x":495,"y":308},
{"g":"b","t":"dU(C2')-ND•","x":80,"y":393},
{"g":"r","t":"T(C3')-ND•","x":542,"y":413},
{"g":"r","t":"from ref. 8","x":542,"y":443},
{"g":"s","t":"26.18 G","x":337,"y":452},
{"g":"b","t":"dU(C2')-ND•","x":60,"y":533},
{"g":"k","t":"C","x":18,"y":572},
{"g":"k","t":"2',3'-ddU(C3')-ND•","x":25,"y":647},
{"g":"k","t":"15 min 145 K","x":532,"y":580},
{"g":"b","t":"15 min 150 K","x":532,"y":693},
{"g":"k","t":"D","x":15,"y":828},
{"g":"k","t":"45 min 165 K","x":545,"y":822},
{"g":"b","t":"60 min 167 K","x":550,"y":918}
],
"arrows": [
{"id":"a1","c":"blue","x":250,"y":182,"x2":280,"y2":157},
{"id":"a2","c":"blue","x":330,"y":175,"x2":352,"y2":147},
{"id":"a3","c":"black","x":448,"y":122,"x2":475,"y2":158},
{"id":"a4","c":"steel","x":366,"y":470,"x2":330,"y2":470},
{"id":"a5","c":"steel","x":373,"y":470,"x2":412,"y2":470}
],
"tri": [{"x":327,"y":481},{"x":369,"y":481},{"x":415,"y":481}]
},
"encoding": {
"x": {"field":"x","type":"quantitative","scale":{"domain":[0,741],"nice":false,"zero":false},"axis":null},
"y": {"field":"y","type":"quantitative","scale":{"domain":[0,1050],"reverse":true,"nice":false,"zero":false},"axis":null}
},
"layer": [
{"data":{"name":"frame"},"mark":{"type":"rect","fill":null,"fillOpacity":0,"stroke":"#a0a0a0","strokeWidth":2},
 "encoding":{"x2":{"field":"x2"},"y2":{"field":"y2"}}},
{"data":{"name":"traces"},"mark":{"type":"line","strokeWidth":2,"strokeJoin":"round"},
 "encoding":{"color":{"field":"s","type":"nominal","legend":null,
   "scale":{"domain":["Ak","Ab","Bk","Bb","Br","Cb","Ck","Db","Dk"],"range":["#000000","#0000ff","#000000","#0000ff","#ff0000","#0000ff","#000000","#0000ff","#000000"]}}}},
{"data":{"name":"arrows"},"mark":{"type":"rule","strokeWidth":1.5},
 "encoding":{"x2":{"field":"x2"},"y2":{"field":"y2"},"color":{"field":"c","type":"nominal","legend":null,"scale":{"domain":["blue","black","steel"],"range":["#0000ff","#000000","#4472c4"]}}}},
{"data":{"name":"arrows"},"transform":[{"filter":"datum.id == 'a1'"}],"mark":{"type":"point","shape":"triangle","filled":true,"size":70,"angle":50,"color":"#0000ff","opacity":1},
 "encoding":{"x":{"field":"x2","type":"quantitative"},"y":{"field":"y2","type":"quantitative"}}},
{"data":{"name":"arrows"},"transform":[{"filter":"datum.id == 'a2'"}],"mark":{"type":"point","shape":"triangle","filled":true,"size":70,"angle":38,"color":"#0000ff","opacity":1},
 "encoding":{"x":{"field":"x2","type":"quantitative"},"y":{"field":"y2","type":"quantitative"}}},
{"data":{"name":"arrows"},"transform":[{"filter":"datum.id == 'a3'"}],"mark":{"type":"point","shape":"triangle","filled":true,"size":70,"angle":143,"color":"#000000","opacity":1},
 "encoding":{"x":{"field":"x2","type":"quantitative"},"y":{"field":"y2","type":"quantitative"}}},
{"data":{"name":"arrows"},"transform":[{"filter":"datum.id == 'a4'"}],"mark":{"type":"point","shape":"triangle","filled":true,"size":60,"angle":270,"color":"#4472c4","opacity":1},
 "encoding":{"x":{"field":"x2","type":"quantitative"},"y":{"field":"y2","type":"quantitative"}}},
{"data":{"name":"arrows"},"transform":[{"filter":"datum.id == 'a5'"}],"mark":{"type":"point","shape":"triangle","filled":true,"size":60,"angle":90,"color":"#4472c4","opacity":1},
 "encoding":{"x":{"field":"x2","type":"quantitative"},"y":{"field":"y2","type":"quantitative"}}},
{"data":{"name":"tri"},"mark":{"type":"point","shape":"triangle-up","filled":false,"size":45,"stroke":"#444444","strokeWidth":1,"opacity":1}},
{"data":{"name":"labels"},"transform":[{"filter":"datum.g == 'legK'"}],"mark":{"type":"text","font":"Arial","fontWeight":"bold","fontSize":22,"align":"left","baseline":"middle","color":"#000000"},"encoding":{"text":{"field":"t"}}},
{"data":{"name":"labels"},"transform":[{"filter":"datum.g == 'legB'"}],"mark":{"type":"text","font":"Arial","fontWeight":"bold","fontSize":22,"align":"left","baseline":"middle","color":"#0000ff"},"encoding":{"text":{"field":"t"}}},
{"data":{"name":"labels"},"transform":[{"filter":"datum.g == 'k'"}],"mark":{"type":"text","font":"Arial","fontWeight":"bold","fontSize":26,"align":"left","baseline":"middle","color":"#000000"},"encoding":{"text":{"field":"t"}}},
{"data":{"name":"labels"},"transform":[{"filter":"datum.g == 'b'"}],"mark":{"type":"text","font":"Arial","fontWeight":"bold","fontSize":26,"align":"left","baseline":"middle","color":"#0000ff"},"encoding":{"text":{"field":"t"}}},
{"data":{"name":"labels"},"transform":[{"filter":"datum.g == 'r'"}],"mark":{"type":"text","font":"Arial","fontWeight":"bold","fontSize":26,"align":"left","baseline":"middle","color":"#ff0000"},"encoding":{"text":{"field":"t"}}},
{"data":{"name":"labels"},"transform":[{"filter":"datum.g == 's'"}],"mark":{"type":"text","font":"Arial","fontWeight":"bold","fontSize":18,"align":"left","baseline":"middle","color":"#000000"},"encoding":{"text":{"field":"t"}}}
]
}
